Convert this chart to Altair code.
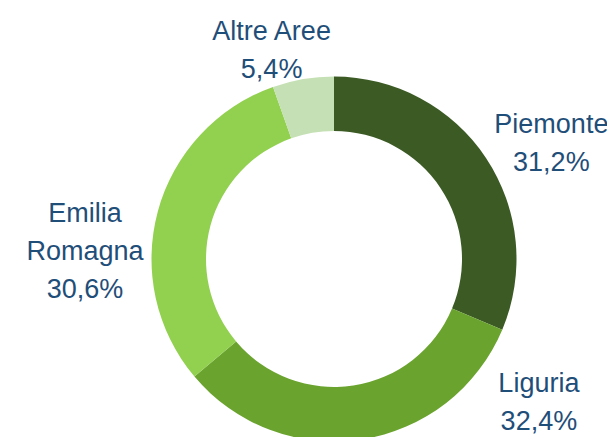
import altair as alt
import pandas as pd

regions = ["Piemonte", "Liguria", "Emilia Romagna", "Altre Aree"]
shares = [31.2, 32.4, 30.6, 5.4]
labels = ["Piemonte\n31,2%", "Liguria\n32,4%", "Emilia\nRomagna\n30,6%", "Altre Aree\n5,4%"]
colors = ["#3B5A24", "#6AA32E", "#92D050", "#C5E0B4"]

df = pd.DataFrame({"region": regions, "share": shares, "idx": list(range(len(regions))), "label": labels})

base = alt.Chart(df).transform_window(
    cum="sum(share)", sort=[alt.SortField("idx")], frame=[None, 0]
).transform_calculate(
    start="datum.cum - datum.share", mid="datum.cum - datum.share / 2"
)

cx, cy = 326, 251
theta_scale = alt.Scale(domain=[0, sum(shares)])

ring = base.mark_arc(innerRadius=128, outerRadius=182.5).encode(
    theta=alt.Theta("start:Q", scale=theta_scale),
    theta2="cum:Q",
    color=alt.Color("region:N", scale=alt.Scale(domain=regions, range=colors), legend=None),
    x=alt.value(cx),
    y=alt.value(cy),
)

offsets = {
    "Piemonte": (17.5, 7),
    "Liguria": (168.7, -104.5),
    "Emilia Romagna": (-17.4, 25.6),
    "Altre Aree": (-21.7, 17.5),
}

font = "Liberation Sans Narrow, Arial Narrow, Liberation Sans, Arial, sans-serif"
texts = []
for r in regions:
    dx, dy = offsets[r]
    texts.append(
        base.transform_filter(alt.datum.region == r).mark_text(
            radius=240, dx=dx, dy=dy, align="center", baseline="alphabetic",
            lineBreak="\n", font=font, fontSize=27, lineHeight=38, color="#1F4E79",
        ).encode(
            theta=alt.Theta("mid:Q", scale=theta_scale),
            text="label:N",
            x=alt.value(cx),
            y=alt.value(cy),
        )
    )

chart = alt.layer(ring, *texts).properties(
    width=599, height=429, padding=0, autosize=alt.AutoSizeParams(type="none"),
    background="white",
).configure_view(stroke=None)

chart.save("out.html", embed_options={"renderer": "svg", "actions": False})
